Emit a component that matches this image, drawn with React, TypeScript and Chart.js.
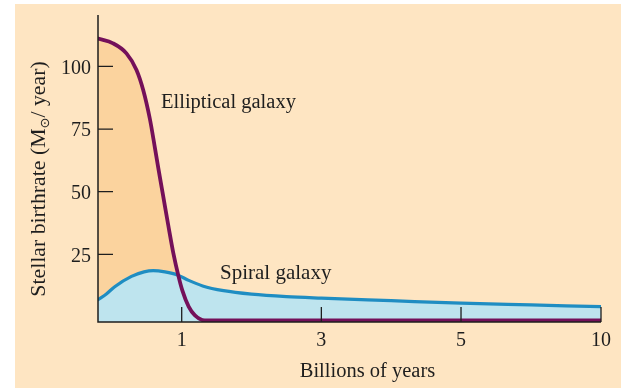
import React, { useEffect, useRef } from 'react';
import { Chart, registerables, LinearScale } from 'chart.js';

// ---- data ----
const ELLIPTICAL_T = [0, 0.18, 0.34, 0.46, 0.54, 0.62, 0.68, 0.72, 0.78, 0.84, 0.9, 0.96, 1.01, 1.1, 1.19, 1.33, 2, 3, 5, 10];
const ELLIPTICAL_RATE = [111.1, 109.2, 105.2, 98.6, 90.6, 79.0, 67.5, 59.5, 48.0, 36.5, 25.5, 16.5, 10.5, 4.1, 0.6, -1.4, -1.4, -1.4, -1.4, -1.4];

const SPIRAL_T = [0, 0.1, 0.2, 0.4, 0.55, 0.66, 0.8, 0.95, 1.1, 1.3, 1.6, 2, 2.5, 3, 4, 5, 7.5, 10];
const SPIRAL_RATE = [6.9, 9.2, 12.1, 16.2, 18.0, 18.5, 18.0, 16.8, 14.6, 12.4, 10.5, 9.1, 8.1, 7.5, 6.5, 5.5, 4.8, 4.1];

const X_TICKS = [1, 3, 5, 10];
const Y_TICKS = [25, 50, 75, 100];

// the printed time axis is not linear: breakpoints and their share of the axis
const X_BREAKS = [0, 1, 5, 10];
const X_FRACTIONS = [0, 0.1664, 0.7217, 1];

function warp(v: number): number {
  for (let i = 1; i < X_BREAKS.length; i++) {
    if (v <= X_BREAKS[i] || i === X_BREAKS.length - 1) {
      const t = (v - X_BREAKS[i - 1]) / (X_BREAKS[i] - X_BREAKS[i - 1]);
      return X_FRACTIONS[i - 1] + t * (X_FRACTIONS[i] - X_FRACTIONS[i - 1]);
    }
  }
  return 0;
}
function unwarp(d: number): number {
  for (let i = 1; i < X_FRACTIONS.length; i++) {
    if (d <= X_FRACTIONS[i] || i === X_FRACTIONS.length - 1) {
      const t = (d - X_FRACTIONS[i - 1]) / (X_FRACTIONS[i] - X_FRACTIONS[i - 1]);
      return X_BREAKS[i - 1] + t * (X_BREAKS[i] - X_BREAKS[i - 1]);
    }
  }
  return 0;
}

class BrokenScale extends LinearScale {
  static id = 'broken';
  getPixelForValue(value: any) {
    if (value === null || value === undefined || isNaN(value)) return NaN;
    return this.getPixelForDecimal(warp(value));
  }
  getValueForPixel(pixel: number) {
    return unwarp(this.getDecimalForPixel(pixel));
  }
}

Chart.register(...registerables, BrokenScale as any);

const PEACH = '#FEE5C2';
const ORANGE_FILL = '#FBD39E';
const BLUE_FILL = '#BEE4EE';
const BLUE_LINE = '#1F8DC2';
const PURPLE = '#74105A';
const INK = '#1e1e1e';
const SERIF = '"Liberation Serif", "Times New Roman", serif';

const backgroundPlugin = {
  id: 'bg',
  beforeDraw(chart: any) {
    const { ctx, width, height } = chart;
    ctx.save();
    ctx.fillStyle = '#ffffff';
    ctx.fillRect(0, 0, width, height);
    ctx.fillStyle = PEACH;
    ctx.fillRect(15, 4, width - 15, height - 4);
    ctx.restore();
  },
};

const axesPlugin = {
  id: 'axesInward',
  afterDatasetsDraw(chart: any) {
    const { ctx, chartArea: ca } = chart;
    const xs = chart.scales.x;
    const ys = chart.scales.y;
    ctx.save();
    ctx.strokeStyle = INK;
    ctx.lineWidth = 1.5;
    ctx.beginPath();
    ctx.moveTo(ca.left, ca.top);
    ctx.lineTo(ca.left, ca.bottom);
    ctx.lineTo(ca.right, ca.bottom);
    ctx.stroke();
    ctx.lineWidth = 1.3;
    ctx.beginPath();
    Y_TICKS.forEach((v) => {
      const py = ys.getPixelForValue(v);
      ctx.moveTo(ca.left, py);
      ctx.lineTo(ca.left + 15, py);
    });
    X_TICKS.forEach((v) => {
      const px = xs.getPixelForValue(v);
      ctx.moveTo(px, ca.bottom);
      ctx.lineTo(px, ca.bottom - 15);
    });
    ctx.stroke();
    ctx.restore();
  },
  afterDraw(chart: any) {
    const { ctx } = chart;
    ctx.save();
    ctx.fillStyle = INK;
    ctx.textBaseline = 'alphabetic';
    ctx.font = `20.5px ${SERIF}`;
    ctx.textAlign = 'left';
    ctx.fillText('Elliptical galaxy', 161, 108);
    ctx.font = `21px ${SERIF}`;
    ctx.fillText('Spiral galaxy', 220, 278.5);
    ctx.font = `20.5px ${SERIF}`;
    ctx.textAlign = 'center';
    ctx.fillText('Billions of years', 367.5, 377);

    // rotated y title with subscript sun symbol
    const parts = [
      { t: 'Stellar birthrate (M', f: `21.8px ${SERIF}`, dy: 0 },
      { t: '⊙', f: `13px "DejaVu Sans", sans-serif`, dy: 4 },
      { t: '/ year)', f: `21.8px ${SERIF}`, dy: 0 },
    ];
    let total = 0;
    const widths = parts.map((p) => {
      ctx.font = p.f;
      const w = ctx.measureText(p.t).width;
      total += w;
      return w;
    });
    ctx.translate(45, 179);
    ctx.rotate(-Math.PI / 2);
    ctx.textAlign = 'left';
    let x = -total / 2;
    parts.forEach((p, i) => {
      ctx.font = p.f;
      ctx.fillText(p.t, x, p.dy);
      x += widths[i];
    });
    ctx.restore();
  },
};

export default function App() {
  const canvasRef = useRef<HTMLCanvasElement | null>(null);

  useEffect(() => {
    if (!canvasRef.current) return;
    const elliptical = ELLIPTICAL_T.map((t, i) => ({ x: t, y: ELLIPTICAL_RATE[i] }));
    const spiral = SPIRAL_T.map((t, i) => ({ x: t, y: SPIRAL_RATE[i] }));
    const clear = 'rgba(0,0,0,0)';

    const chart = new Chart(canvasRef.current, {
      type: 'line',
      data: {
        datasets: [
          { label: 'Elliptical galaxy', data: elliptical, borderColor: PURPLE, borderWidth: 3.8, fill: false, pointRadius: 0 },
          { label: 'Spiral galaxy', data: spiral, borderColor: BLUE_LINE, borderWidth: 3.2, fill: false, pointRadius: 0 },
          { label: 'Spiral area', data: spiral, borderColor: clear, borderWidth: 0, backgroundColor: BLUE_FILL, fill: 'start', pointRadius: 0 },
          { label: 'Elliptical area', data: elliptical, borderColor: clear, borderWidth: 0, backgroundColor: ORANGE_FILL, fill: 'start', pointRadius: 0 },
        ],
      },
      options: {
        responsive: false,
        animation: false,
        events: [],
        layout: { padding: { top: 15, right: 20, left: 0, bottom: 0 } },
        elements: { line: { cubicInterpolationMode: 'monotone', borderCapStyle: 'round' } },
        plugins: { legend: { display: false }, tooltip: { enabled: false }, title: { display: false } },
        scales: {
          x: {
            type: 'broken' as any,
            min: 0,
            max: 10,
            bounds: 'data',
            grid: { display: false, drawTicks: false },
            border: { display: false },
            ticks: {
              padding: 7,
              color: INK,
              font: { family: SERIF, size: 20 },
              maxRotation: 0,
              autoSkip: false,
              callback: (v: any) => String(v),
            },
            afterBuildTicks: (s: any) => {
              s.ticks = X_TICKS.map((v) => ({ value: v }));
            },
            afterFit: (s: any) => {
              s.height = 66;
              s.paddingLeft = 0;
              s.paddingRight = 0;
            },
          } as any,
          y: {
            type: 'linear',
            min: -2,
            max: 120.5,
            bounds: 'data',
            grid: { display: false, drawTicks: false },
            border: { display: false },
            ticks: {
              padding: 7,
              color: INK,
              font: { family: SERIF, size: 20 },
              labelOffset: 2,
              callback: (v: any) => String(v),
            },
            afterBuildTicks: (s: any) => {
              s.ticks = Y_TICKS.map((v) => ({ value: v }));
            },
            afterFit: (s: any) => {
              s.width = 98;
              s.paddingTop = 0;
              s.paddingBottom = 0;
            },
          } as any,
        },
      } as any,
      plugins: [backgroundPlugin, axesPlugin],
    });
    return () => chart.destroy();
  }, []);

  return (
    <div style={{ position: 'absolute', left: 0, top: 0, width: 621, height: 388 }}>
      <canvas ref={canvasRef} width={621} height={388} style={{ display: 'block' }} />
    </div>
  );
}
